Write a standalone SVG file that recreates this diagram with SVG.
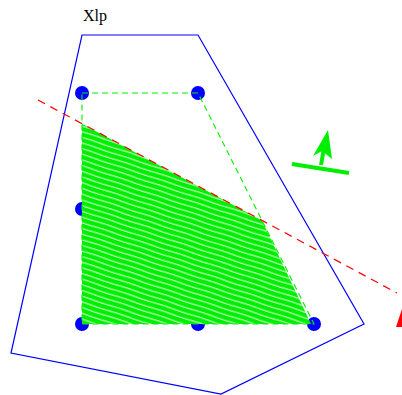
<svg xmlns="http://www.w3.org/2000/svg" width="402" height="395" viewBox="0 0 402 395">
<style>
.dot{fill:#0000ff}
.hull{fill:none;stroke:#0000ff;stroke-width:1.2}
.gdash{fill:none;stroke:#00ee00;stroke-width:1.1;stroke-dasharray:6 4}
.rdash{fill:none;stroke:#ff0000;stroke-width:1.2;stroke-dasharray:8 6}
</style>
<defs>
<pattern id="hatch" patternUnits="userSpaceOnUse" width="40" height="5.4" patternTransform="rotate(18)">
<rect width="40" height="5.4" fill="#00ee00"/>
<path d="M0 2.7 Q10 2.2 20 2.7 T40 2.7" fill="none" stroke="#ffffff" stroke-width="1"/>
</pattern>
</defs>
<rect width="402" height="395" fill="#ffffff"/>
<text x="83" y="21" font-family="Liberation Serif, serif" font-size="16" fill="#000">Xlp</text>
<g id="hull"><polygon class="hull" points="82,35 198,35 364,324 221,394 11,353"/></g>
<g id="points">
<circle class="dot" cx="82" cy="93" r="7"/>
<circle class="dot" cx="198" cy="93" r="7"/>
<circle class="dot" cx="82" cy="209" r="7"/>
<circle class="dot" cx="82" cy="324" r="7"/>
<circle class="dot" cx="198" cy="324" r="7"/>
<circle class="dot" cx="314" cy="324" r="7"/>
</g>
<g id="feasible"><polygon points="82,123.7 262,220.4 311,324 82,324" fill="url(#hatch)"/></g>
<g id="outline"><polygon class="gdash" points="82,93 198,93 314,324 82,324"/></g>
<g id="objective">
<line x1="292" y1="164" x2="349" y2="173" stroke="#00ee00" stroke-width="4"/>
<line x1="321" y1="165" x2="324" y2="148" stroke="#00ee00" stroke-width="4"/>
<polygon points="328,130 313,156 322,151 332,159" fill="#00ee00"/>
</g>
<g id="connectors">
<line class="rdash" x1="38" y1="100" x2="397" y2="293"/>
<polygon points="396,327 402,309 402,327" fill="#ff0000"/>
</g>
</svg>
